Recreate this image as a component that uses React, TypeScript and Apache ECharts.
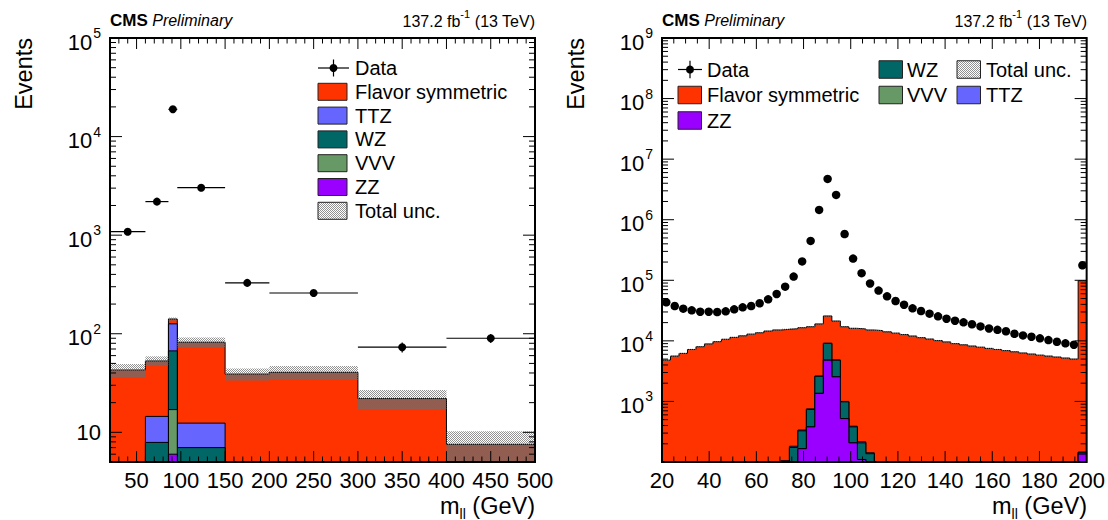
import React, { useEffect, useRef } from 'react';
import * as echarts from 'echarts';

// ---------------- Left panel: variable-width m_ll bins ----------------
const leftBinEdges = [20, 60, 86, 96, 150, 200, 300, 400, 500];
const leftData = [1084, 2190, 18900, 3030, 328, 259, 73, 90];
const leftFlavorSym = [41, 38.5, 15, 69.6, 35.7, 37.5, 20.5, 6.8];
const leftTTZ = [0.5, 6.6, 59, 5.4, 1.2, 1.0, 0.4, 0.2];
const leftWZ = [1.0, 6.2, 50, 4.7, 1.5, 1.5, 0.8, 0.4];
const leftVVV = [0.1, 0.2, 11, 0.3, 0.1, 0.1, 0.1, 0.05];
const leftZZ = [0.3, 1.5, 6, 2.0, 0.5, 0.5, 0.2, 0.1];
const leftTotalUnc = [6.5, 6, 5, 9.5, 5.5, 6.5, 4.8, 2.7];

// ---------------- Right panel: 50 bins of 3.6 GeV from 20 to 200 ----------------
const rightBinLow = 20;
const rightBinWidth = 3.6;
const rightData = [
  43300, 37600, 34000, 31900, 30300, 30300, 29900, 30700, 33100, 35800,
  37600, 41700, 48500, 59400, 78400, 115000, 205000, 447000, 1450000, 4720000,
  2570000, 580000, 228000, 131000, 88500, 67600, 54300, 45500, 39500, 34400,
  31100, 28100, 25400, 23200, 21500, 20200, 18800, 17300, 16000, 15200,
  14400, 13100, 12300, 11700, 11000, 10300, 9660, 9100, 8630, 177000,
];
const rightFlavorSym = [
  4800, 5600, 6200, 7200, 8000, 8900, 9700, 10600, 11400, 12100,
  12900, 13600, 14500, 15100, 15400, 15700, 16150, 16350, 16400, 16600,
  16400, 16100, 15700, 15500, 14950, 14700, 14100, 13400, 12700, 12000,
  11300, 10700, 10100, 9600, 9000, 8600, 8200, 7850, 7500, 7200,
  6900, 6600, 6300, 6050, 5800, 5600, 5400, 5200, 5000, 98000,
];
const rightTTZ = [
  0, 0, 0, 0, 0, 0, 0, 0, 0, 0,
  0, 0, 0, 0, 10, 8, 10, 15, 20, 25,
  20, 15, 10, 8, 5, 0, 0, 0, 0, 0,
  0, 0, 0, 0, 0, 0, 0, 0, 0, 0,
  0, 0, 0, 0, 0, 0, 0, 0, 0, 0,
];
const rightWZ = [
  0, 0, 0, 0, 0, 0, 0, 0, 0, 0,
  0, 0, 0, 15, 45, 94, 161, 358, 1240, 4300,
  2250, 463, 173, 97, 67, 30, 0, 0, 0, 0,
  0, 0, 0, 0, 0, 0, 0, 0, 0, 0,
  0, 0, 0, 0, 0, 0, 0, 0, 0, 10,
];
const rightVVV = [
  0, 0, 0, 0, 0, 0, 0, 0, 0, 0,
  0, 0, 0, 0, 0, 0, 0, 0, 0, 0,
  0, 0, 0, 0, 0, 0, 0, 0, 0, 0,
  0, 0, 0, 0, 0, 0, 0, 0, 0, 0,
  0, 0, 0, 0, 0, 0, 0, 0, 0, 0,
];
const rightZZ = [
  0, 0, 0, 0, 0, 0, 0, 0, 0, 0,
  0, 0, 0, 0, 50, 80, 166, 380, 1360, 4800,
  2550, 522, 207, 110, 70, 40, 0, 0, 0, 0,
  0, 0, 0, 0, 0, 0, 0, 0, 0, 0,
  0, 0, 0, 0, 0, 0, 0, 0, 0, 135,
];
const rightRelUnc = 0.025;

// tick label text
const leftXLabelEvery = 50;
const rightXLabelEvery = 20;

const FONT = '"Liberation Sans", Arial, Helvetica, sans-serif';
const C_FS = '#ff3300';
const C_TTZ = '#6666ff';
const C_WZ = '#006666';
const C_VVV = '#669966';
const C_ZZ = '#9900ff';

function makeHatch() {
  const c = document.createElement('canvas');
  c.width = 4;
  c.height = 4;
  const ctx = c.getContext('2d')!;
  ctx.fillStyle = 'rgba(110,110,110,0.75)';
  for (let i = 0; i < 4; i++) for (let j = 0; j < 4; j++) if ((i + j) % 2 === 0) ctx.fillRect(i, j, 1, 1);
  return { image: c.toDataURL(), repeat: 'repeat', imageWidth: 4, imageHeight: 4 } as any;
}

const pos = (v: number) => (v > 0 ? v : 1e-4);

function cumulate(...arrs: number[][]) {
  return arrs[0].map((_, i) => arrs.reduce((s, a) => s + a[i], 0));
}

function stepLine(edges: number[], vals: number[], color: string, gi: number, z: number) {
  const data = vals.map((v, i) => [edges[i], pos(v)]);
  data.push([edges[edges.length - 1], pos(vals[vals.length - 1])]);
  return {
    type: 'line', xAxisIndex: gi, yAxisIndex: gi, data, step: 'end', symbol: 'none', showSymbol: false,
    clip: true, silent: true, z,
    lineStyle: { color: '#000', width: 1 },
    areaStyle: { color, opacity: 1, origin: 'start' },
  };
}

function bandSeries(edges: number[], total: number[], unc: number[], gi: number, hatch: any, z: number) {
  return {
    type: 'custom', xAxisIndex: gi, yAxisIndex: gi, z, silent: true, clip: true,
    data: total.map((t, i) => [edges[i], pos(t - unc[i]), edges[i + 1], t + unc[i]]),
    renderItem: (_p: any, api: any) => {
      const a = api.coord([api.value(0), api.value(3)]);
      const b = api.coord([api.value(2), api.value(1)]);
      return {
        type: 'rect',
        shape: { x: a[0], y: a[1], width: b[0] - a[0], height: b[1] - a[1] },
        style: { fill: hatch, stroke: null },
      };
    },
  };
}

function frameSeries(gi: number, xMin: number, xMax: number, minorStep: number, majorStep: number, yMin: number, yMax: number) {
  return {
    type: 'custom', xAxisIndex: gi, yAxisIndex: gi, z: 30, silent: true, clip: false,
    data: [[xMin, yMin]],
    renderItem: (params: any, api: any) => {
      const cs = params.coordSys;
      const Lx = cs.x, Ty = cs.y, Rx = cs.x + cs.width, By = cs.y + cs.height;
      const kids: any[] = [];
      const ln = (x1: number, y1: number, x2: number, y2: number) =>
        kids.push({ type: 'line', shape: { x1, y1, x2, y2 }, style: { stroke: '#000', lineWidth: 1 } });
      const nX = Math.round((xMax - xMin) / minorStep);
      for (let k = 0; k <= nX; k++) {
        const v = xMin + k * minorStep;
        const px = api.coord([v, yMin])[0];
        const r = v / majorStep;
        const major = Math.abs(r - Math.round(r)) < 1e-6;
        const len = major ? 11 : 5.5;
        ln(px, By, px, By - len);
        ln(px, Ty, px, Ty + len);
      }
      for (let d = Math.floor(Math.log10(yMin)); d <= Math.ceil(Math.log10(yMax)); d++) {
        for (let m = 1; m <= 9; m++) {
          const v = m * Math.pow(10, d);
          if (v < yMin * 0.999 || v > yMax * 1.001) continue;
          const py = api.coord([xMin, v])[1];
          const len = m === 1 ? 12 : 6;
          ln(Lx, py, Lx + len, py);
          ln(Rx, py, Rx - len, py);
        }
      }
      kids.push({ type: 'rect', shape: { x: Lx, y: Ty, width: cs.width, height: cs.height }, style: { fill: 'none', stroke: '#000', lineWidth: 2 } });
      return { type: 'group', children: kids };
    },
  };
}

const yRich = {
  b: { fontSize: 22, fontFamily: FONT, color: '#000', padding: [8, 0, 0, 0], verticalAlign: 'bottom' },
  s: { fontSize: 14, fontFamily: FONT, color: '#000', padding: [3, 0, 0, 1], verticalAlign: 'top' },
  p: { fontSize: 22, fontFamily: FONT, color: '#000' },
};
function yFormatter(v: number) {
  const e = Math.round(Math.log10(v));
  if (e === 1) return '{p|10}';
  return `{b|10}{s|${e}}`;
}

function xAxisCfg(gi: number, min: number, max: number, every: number) {
  return {
    gridIndex: gi, type: 'value', min, max, interval: 10,
    axisLine: { show: false }, axisTick: { show: false }, splitLine: { show: false },
    axisLabel: {
      formatter: (v: number) => (Math.abs(v % every) < 1e-6 ? String(v) : ''),
      fontSize: 22, fontFamily: FONT, color: '#000', margin: 7, hideOverlap: false,
    },
  };
}
function yAxisCfg(gi: number, min: number, max: number) {
  return {
    gridIndex: gi, type: 'log', logBase: 10, min, max,
    axisLine: { show: false }, axisTick: { show: false }, splitLine: { show: false }, minorTick: { show: false },
    axisLabel: { showMinLabel: false, formatter: yFormatter, rich: yRich, margin: 9, color: '#000' },
  };
}

function txt(x: number, y: number, text: string, size: number, align = 'left', extra: any = {}) {
  return {
    type: 'text', x, y, z: 50, silent: true,
    style: { text, fontSize: size, fontFamily: FONT, fill: '#000', align, verticalAlign: 'middle', ...extra },
  };
}

function headerTexts(left: number, right: number) {
  return [
    txt(left, 20, '{c|CMS}{p| Preliminary}', 16, 'left', {
      rich: {
        c: { fontSize: 17, fontWeight: 'bold', fontFamily: FONT, fill: '#000' },
        p: { fontSize: 16, fontStyle: 'italic', fontFamily: FONT, fill: '#000' },
      },
    }),
    txt(right, 19, '{a|137.2 fb}{s|-1}{a| (13 TeV)}', 16, 'right', {
      rich: {
        a: { fontSize: 16, fontFamily: FONT, fill: '#000', padding: [5, 0, 0, 0], verticalAlign: 'bottom' },
        s: { fontSize: 11, fontFamily: FONT, fill: '#000', verticalAlign: 'top' },
      },
    }),
  ];
}

function axisTitles(yTitleX: number, top: number, right: number) {
  return [
    {
      type: 'text', x: yTitleX, y: top, rotation: Math.PI / 2, z: 50, silent: true,
      style: { text: 'Events', fontSize: 23.5, fontFamily: FONT, fill: '#000', align: 'right', verticalAlign: 'middle' },
    },
    txt(right, 507, '{m|m}{l|ll}{m| (GeV)}', 23.5, 'right', {
      rich: {
        m: { fontSize: 23.5, fontFamily: FONT, fill: '#000', padding: [0, 0, 3, 0] },
        l: { fontSize: 14, fontFamily: FONT, fill: '#000', verticalAlign: 'bottom' },
      },
    }),
  ];
}

function legendBox(x: number, yc: number, w: number, h: number, fill: any) {
  return {
    type: 'rect', z: 50, silent: true,
    shape: { x, y: yc - h / 2, width: w, height: h },
    style: { fill, stroke: '#222', lineWidth: 1 },
  };
}
function legendData(x: number, yc: number, w: number, h: number) {
  return [
    { type: 'line', z: 50, silent: true, shape: { x1: x, y1: yc, x2: x + w, y2: yc }, style: { stroke: '#000', lineWidth: 1.2 } },
    { type: 'line', z: 50, silent: true, shape: { x1: x + w / 2, y1: yc - h / 2, x2: x + w / 2, y2: yc + h / 2 }, style: { stroke: '#000', lineWidth: 1.2 } },
    { type: 'circle', z: 51, silent: true, shape: { cx: x + w / 2, cy: yc, r: 4 }, style: { fill: '#000' } },
  ];
}

function buildOption() {
  const hatch = makeHatch();

  // left stack
  const lCumZZ = leftZZ.slice();
  const lCumVVV = cumulate(leftZZ, leftVVV);
  const lCumWZ = cumulate(leftZZ, leftVVV, leftWZ);
  const lCumTTZ = cumulate(leftZZ, leftVVV, leftWZ, leftTTZ);
  const lTotal = cumulate(leftZZ, leftVVV, leftWZ, leftTTZ, leftFlavorSym);
  const le = leftBinEdges;
  const lCenters = leftData.map((_, i) => (le[i] + le[i + 1]) / 2);

  // right stack
  const re = rightData.map((_, i) => rightBinLow + i * rightBinWidth).concat([rightBinLow + rightData.length * rightBinWidth]);
  const rCumZZ = rightZZ.slice();
  const rCumVVV = cumulate(rightZZ, rightVVV);
  const rCumWZ = cumulate(rightZZ, rightVVV, rightWZ);
  const rCumTTZ = cumulate(rightZZ, rightVVV, rightWZ, rightTTZ);
  const rTotal = cumulate(rightZZ, rightVVV, rightWZ, rightTTZ, rightFlavorSym);
  const rUnc = rTotal.map((t) => t * rightRelUnc);
  const rCenters = rightData.map((_, i) => (re[i] + re[i + 1]) / 2);

  const series: any[] = [
    stepLine(le, lTotal, C_FS, 0, 1),
    stepLine(le, lCumTTZ, C_TTZ, 0, 2),
    stepLine(le, lCumWZ, C_WZ, 0, 3),
    stepLine(le, lCumVVV, C_VVV, 0, 4),
    stepLine(le, lCumZZ, C_ZZ, 0, 5),
    bandSeries(le, lTotal, leftTotalUnc, 0, hatch, 6),
    {
      type: 'custom', xAxisIndex: 0, yAxisIndex: 0, z: 7, silent: true, clip: true,
      data: leftData.map((v, i) => [lCenters[i], v, le[i], le[i + 1], Math.sqrt(v)]),
      renderItem: (_p: any, api: any) => {
        const xc = api.value(0), y = api.value(1), x0 = api.value(2), x1 = api.value(3), er = api.value(4);
        const pl = api.coord([x0, y]);
        const pr = api.coord([x1, y]);
        const pt = api.coord([xc, y + er]);
        const pb = api.coord([xc, y - er]);
        return {
          type: 'group',
          children: [
            { type: 'line', shape: { x1: pl[0], y1: pl[1], x2: pr[0], y2: pr[1] }, style: { stroke: '#000', lineWidth: 1.2 } },
            { type: 'line', shape: { x1: pt[0], y1: pt[1], x2: pb[0], y2: pb[1] }, style: { stroke: '#000', lineWidth: 1.2 } },
          ],
        };
      },
    },
    {
      type: 'scatter', xAxisIndex: 0, yAxisIndex: 0, z: 8, silent: true, symbol: 'circle', symbolSize: 8,
      itemStyle: { color: '#000', opacity: 1 }, data: leftData.map((v, i) => [lCenters[i], v]),
    },
    frameSeries(0, 20, 500, 10, 50, 5, 1e5),

    stepLine(re, rTotal, C_FS, 1, 1),
    stepLine(re, rCumTTZ, C_TTZ, 1, 2),
    stepLine(re, rCumWZ, C_WZ, 1, 3),
    stepLine(re, rCumVVV, C_VVV, 1, 4),
    stepLine(re, rCumZZ, C_ZZ, 1, 5),
    bandSeries(re, rTotal, rUnc, 1, hatch, 6),
    {
      type: 'scatter', xAxisIndex: 1, yAxisIndex: 1, z: 8, silent: true, symbol: 'circle', symbolSize: 8.5,
      itemStyle: { color: '#000', opacity: 1 }, data: rightData.map((v, i) => [rCenters[i], v]),
    },
    frameSeries(1, 20, 200, 5, 20, 100, 1e9),
  ];

  // legends
  const graphic: any[] = [];
  graphic.push(...headerTexts(110, 535), ...headerTexts(662, 1087));
  graphic.push(...axisTitles(24, 38, 535), ...axisTitles(576, 38, 1087));

  const lx = 318, lw = 29, lh = 17, ltx = 355, ly0 = 68, ldy = 23.8;
  graphic.push(...legendData(lx, ly0, lw + 2, lh));
  graphic.push(txt(ltx, ly0, 'Data', 20));
  const lItems: [string, any][] = [
    ['Flavor symmetric', C_FS], ['TTZ', C_TTZ], ['WZ', C_WZ], ['VVV', C_VVV], ['ZZ', C_ZZ], ['Total unc.', hatch],
  ];
  lItems.forEach(([name, fill], k) => {
    const y = ly0 + (k + 1) * ldy;
    graphic.push(legendBox(lx, y, lw, lh, fill));
    graphic.push(txt(ltx, y, name, 20));
  });

  const rRows = [69.5, 95, 120.5];
  const rw = 23.5, rh = 17.5;
  graphic.push(...legendData(678, rRows[0], 24, rh));
  graphic.push(txt(707, rRows[0], 'Data', 20));
  const rItems: [number, number, number, string, any][] = [
    [678, 707, rRows[1], 'Flavor symmetric', C_FS],
    [678, 707, rRows[2], 'ZZ', C_ZZ],
    [879, 907, rRows[0], 'WZ', C_WZ],
    [879, 907, rRows[1], 'VVV', C_VVV],
    [957, 986, rRows[0], 'Total unc.', hatch],
    [957, 986, rRows[1], 'TTZ', C_TTZ],
  ];
  rItems.forEach(([bx, tx, y, name, fill]) => {
    graphic.push(legendBox(bx, y, rw, rh, fill));
    graphic.push(txt(tx, y, name, 20));
  });

  return {
    animation: false,
    backgroundColor: '#fff',
    textStyle: { fontFamily: FONT },
    grid: [
      { left: 110, top: 38, width: 425, height: 424, show: false },
      { left: 662, top: 38, width: 425, height: 424, show: false },
    ],
    xAxis: [xAxisCfg(0, 20, 500, leftXLabelEvery), xAxisCfg(1, 20, 200, rightXLabelEvery)],
    yAxis: [yAxisCfg(0, 5, 1e5), yAxisCfg(1, 100, 1e9)],
    series,
    graphic: { elements: graphic },
  };
}

export default function App() {
  const ref = useRef<HTMLDivElement>(null);
  useEffect(() => {
    document.body.style.margin = '0';
    const chart = echarts.init(ref.current!, undefined, { renderer: 'svg' });
    chart.setOption(buildOption() as any);
    return () => chart.dispose();
  }, []);
  return <div ref={ref} style={{ width: 1108, height: 520 }} />;
}
